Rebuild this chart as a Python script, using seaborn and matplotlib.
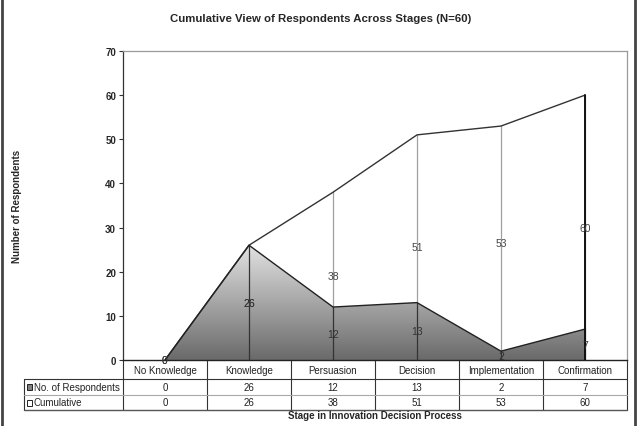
import numpy as np
import seaborn as sns
import matplotlib.pyplot as plt
import matplotlib.transforms as mtransforms
from matplotlib.colors import LinearSegmentedColormap
from matplotlib.patches import Rectangle
from matplotlib.lines import Line2D

stages = ['No Knowledge', 'Knowledge', 'Persuasion', 'Decision', 'Implementation', 'Confirmation']
respondents = [0, 26, 12, 13, 2, 7]
cumulative = [0, 26, 38, 51, 53, 60]
row_names = ['No. of Respondents', 'Cumulative']

sns.set_style('white')
plt.rcParams['font.family'] = ['Liberation Sans', 'DejaVu Sans']

fig = plt.figure(figsize=(6.41, 4.27), dpi=100)
ax = fig.add_axes([123 / 641, 1 - 361 / 427, 504 / 641, 309 / 427])

x = np.arange(len(stages))

# cumulative area (white) with outline
ax.fill_between(x, cumulative, 0, color='white', zorder=1)
sns.lineplot(x=x, y=cumulative, ax=ax, color='#333333', lw=1, zorder=4)

# respondents area with a vertical grey gradient
poly = ax.fill_between(x, respondents, 0, facecolor='none', edgecolor='none', zorder=2)
grey_grad = LinearSegmentedColormap.from_list('gg', ['#e2e2e2', '#6a6a6a'])
grad = np.linspace(0, 1, 256).reshape(-1, 1)
img = ax.imshow(grad, cmap=grey_grad, extent=(-0.5, 5.5, 0, max(respondents)),
                origin='upper', aspect='auto', zorder=2)
img.set_clip_path(poly.get_paths()[0], transform=ax.transData)
sns.lineplot(x=x, y=respondents, ax=ax, color='#222222', lw=1, zorder=5)

# drop lines
for xi, c, r in zip(x, cumulative, respondents):
    if c > 0:
        ax.plot([xi, xi], [r, c], color='#a0a0a0', lw=0.9, zorder=3)
        ax.plot([xi, xi], [0, r], color='#333333', lw=0.9, zorder=3)
ax.plot([x[-1], x[-1]], [0, cumulative[-1]], color='#111111', lw=1.4, zorder=6)

# data labels (middle of each area)
for xi, c, r in zip(x, cumulative, respondents):
    ax.text(xi, c / 2, str(c), ha='center', va='center', fontsize=7.5, color='#444444', zorder=7)
    ax.text(xi, r / 2, str(r), ha='center', va='center', fontsize=7.5, color='#333333', zorder=7)

ax.set_xlim(-0.5, 5.5)
ax.set_ylim(0, 70)
ax.set_yticks(range(0, 71, 10))
ax.set_yticklabels([str(v) for v in range(0, 71, 10)], fontsize=7, fontweight='bold')
ax.set_xticks([])
ax.tick_params(axis='y', direction='out', length=3, width=0.8, color='#333333', pad=2, left=True)
for side in ['top', 'right']:
    ax.spines[side].set_color('#9a9a9a')
    ax.spines[side].set_linewidth(0.9)
ax.spines['left'].set_color('#333333')
ax.spines['bottom'].set_color('#222222')
ax.spines['left'].set_linewidth(0.9)
ax.spines['bottom'].set_linewidth(1.0)
ax.set_ylabel('Number of Respondents', fontsize=7, fontweight='bold', labelpad=0)
ax.yaxis.set_label_coords(-(123 - 22) / 504, 0.5)

# data table below the plot
trans = mtransforms.blended_transform_factory(ax.transData, ax.transAxes)
px = 1 / 309
y_head = -19 * px
y_r1 = -35 * px
y_r2 = -50 * px
left_lab = -0.5 - (123 - 24) / 84

line_kw = dict(transform=trans, clip_on=False, color='#333333', lw=0.8)
for b in np.arange(-0.5, 6.0, 1.0):
    ax.add_line(Line2D([b, b], [0, y_r2], **line_kw))
ax.add_line(Line2D([left_lab, left_lab], [y_head, y_r2], **line_kw))
ax.add_line(Line2D([left_lab, 5.5], [y_head, y_head], **line_kw))
ax.add_line(Line2D([left_lab, 5.5], [y_r1, y_r1], transform=trans, clip_on=False, color='#a8a8a8', lw=0.8))
ax.add_line(Line2D([left_lab, 5.5], [y_r2, y_r2], transform=trans, clip_on=False, color='#555555', lw=1.0))

for xi, s, r, c in zip(x, stages, respondents, cumulative):
    ax.text(xi, (0 + y_head) / 2, s, transform=trans, ha='center', va='center', fontsize=7, color='#222222')
    ax.text(xi, (y_head + y_r1) / 2, str(r), transform=trans, ha='center', va='center', fontsize=7, color='#222222')
    ax.text(xi, (y_r1 + y_r2) / 2, str(c), transform=trans, ha='center', va='center', fontsize=7, color='#222222')

key_w = 5.5 / 84
key_h = 6 * px
for yy, fc, name in [((y_head + y_r1) / 2, '#808080', row_names[0]),
                     ((y_r1 + y_r2) / 2, 'white', row_names[1])]:
    ax.add_patch(Rectangle((left_lab + 2.5 / 84, yy - key_h / 2), key_w, key_h, transform=trans,
                           clip_on=False, facecolor=fc, edgecolor='#222222', lw=0.7))
    ax.text(left_lab + 9.5 / 84, yy, name, transform=trans, ha='left', va='center',
            fontsize=7, color='#222222')

ax.text(2.5, -55 * px, 'Stage in Innovation Decision Process', transform=trans,
        ha='center', va='center', fontsize=7, fontweight='bold')

fig.suptitle('Cumulative View of Respondents Across Stages (N=60)', y=1 - 19 / 427,
             fontsize=8.2, fontweight='bold', va='center')

# chart frame edges
fig.add_artist(Line2D([1.5 / 641, 1.5 / 641], [0, 1], transform=fig.transFigure, color='#444444', lw=2))
fig.add_artist(Line2D([634.5 / 641, 634.5 / 641], [0, 1], transform=fig.transFigure, color='#444444', lw=2))

fig.savefig('out.png', dpi=100)
